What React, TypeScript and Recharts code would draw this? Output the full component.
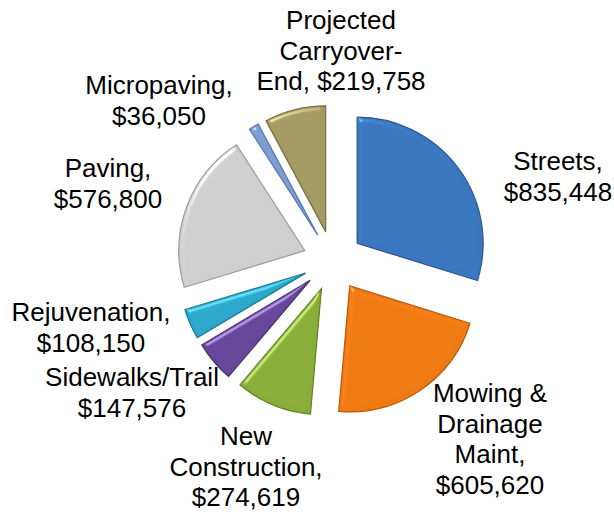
import React from "react";
import { PieChart, Pie, Cell, Sector } from "recharts";

// budget categories, clockwise from 12 o'clock
const categories = [
  "Streets",
  "Mowing & Drainage Maint",
  "New Construction",
  "Sidewalks/Trail",
  "Rejuvenation",
  "Paving",
  "Micropaving",
  "Projected Carryover-End",
];
const amounts = [835448, 605620, 274619, 147576, 108150, 576800, 36050, 219758];

// how each label is broken into lines (value is added after)
const labelLines = [
  ["Streets,"],
  ["Mowing &", "Drainage", "Maint,"],
  ["New", "Construction,"],
  ["Sidewalks/Trail"],
  ["Rejuvenation,"],
  ["Paving,"],
  ["Micropaving,"],
  ["Projected", "Carryover-", "End,"],
];
const valueOnLastLine = [false, false, false, false, false, false, false, true];

const sliceColors = [
  "#3B77BF", // blue
  "#F07A12", // orange
  "#89AD39", // green
  "#66479A", // purple
  "#2CA8CB", // cyan
  "#CFCFCF", // light gray
  "#7D9ED3", // light blue
  "#A39B62", // khaki
];
const edgeColors = ["#2A5690", "#B5590B", "#627E26", "#45306B", "#1C7892", "#9C9C9C", "#5877AA", "#77713F"];

// label anchors: centre x, centre y of first line
const labelAnchors = [
  [558, 161],
  [490, 393],
  [246, 436],
  [132, 377],
  [91, 312],
  [108, 168],
  [159, 85],
  [341, 20],
];

const CX = 333;
const CY = 261;
const RADIUS = 126;
const EXPLODE = 30;
const LINE_H = 30.5;

const data = categories.map((name, i) => ({ name, value: amounts[i] }));

const fmt = (v: number) => "$" + v.toLocaleString("en-US");

const RAD = Math.PI / 180;

// exploded sector: push each slice out along its mid angle
const ExplodedSlice = (props: any) => {
  const { cx, cy, startAngle, endAngle, outerRadius, fill, index } = props;
  const mid = (startAngle + endAngle) / 2;
  const ox = Math.cos(mid * RAD) * EXPLODE;
  const oy = -Math.sin(mid * RAD) * EXPLODE;
  return (
    <Sector
      cx={cx + ox}
      cy={cy + oy}
      innerRadius={0}
      outerRadius={outerRadius}
      startAngle={startAngle}
      endAngle={endAngle}
      fill={fill}
      stroke={edgeColors[index] ?? "#666"}
      strokeWidth={1.2}
      filter="url(#bevel)"
    />
  );
};

const renderLabel = (props: any) => {
  const { index } = props;
  const [x, y] = labelAnchors[index];
  const lines = [...labelLines[index]];
  const val = fmt(amounts[index]);
  if (valueOnLastLine[index]) {
    lines[lines.length - 1] = lines[lines.length - 1] + " " + val;
  } else {
    lines.push(val);
  }
  return (
    <g key={`lbl-${index}`}>
      {lines.map((ln, j) => (
        <text
          key={j}
          x={x}
          y={y + j * LINE_H}
          textAnchor="middle"
          dominantBaseline="central"
          fontSize={26}
          fill="#000"
          fontFamily="'Liberation Sans', Arial, sans-serif"
        >
          {ln}
        </text>
      ))}
    </g>
  );
};

export default function App() {
  return (
    <div style={{ position: "absolute", left: 0, top: 0, width: 614, height: 512, background: "#fff" }}>
      <PieChart width={614} height={512} margin={{ top: 0, right: 0, bottom: 0, left: 0 }}>
        <defs>
          <filter id="bevel" x="-10%" y="-10%" width="120%" height="120%" colorInterpolationFilters="sRGB">
            <feGaussianBlur in="SourceAlpha" stdDeviation="2.5" result="blur" />
            <feSpecularLighting
              in="blur"
              surfaceScale="4"
              specularConstant="0.7"
              specularExponent="30"
              lightingColor="#ffffff"
              result="spec"
            >
              <feDistantLight azimuth="235" elevation="30" />
            </feSpecularLighting>
            <feComposite in="spec" in2="SourceAlpha" operator="in" result="specIn" />
            <feComposite in="SourceGraphic" in2="specIn" operator="arithmetic" k1="0" k2="1" k3="0.5" k4="0" />
          </filter>
        </defs>
        <Pie
          data={data}
          dataKey="value"
          nameKey="name"
          cx={CX}
          cy={CY}
          outerRadius={RADIUS}
          startAngle={90}
          endAngle={-270}
          paddingAngle={0}
          shape={ExplodedSlice}
          label={renderLabel}
          labelLine={false}
          isAnimationActive={false}
        >
          {data.map((d, i) => (
            <Cell key={d.name} fill={sliceColors[i]} />
          ))}
        </Pie>
      </PieChart>
    </div>
  );
}
